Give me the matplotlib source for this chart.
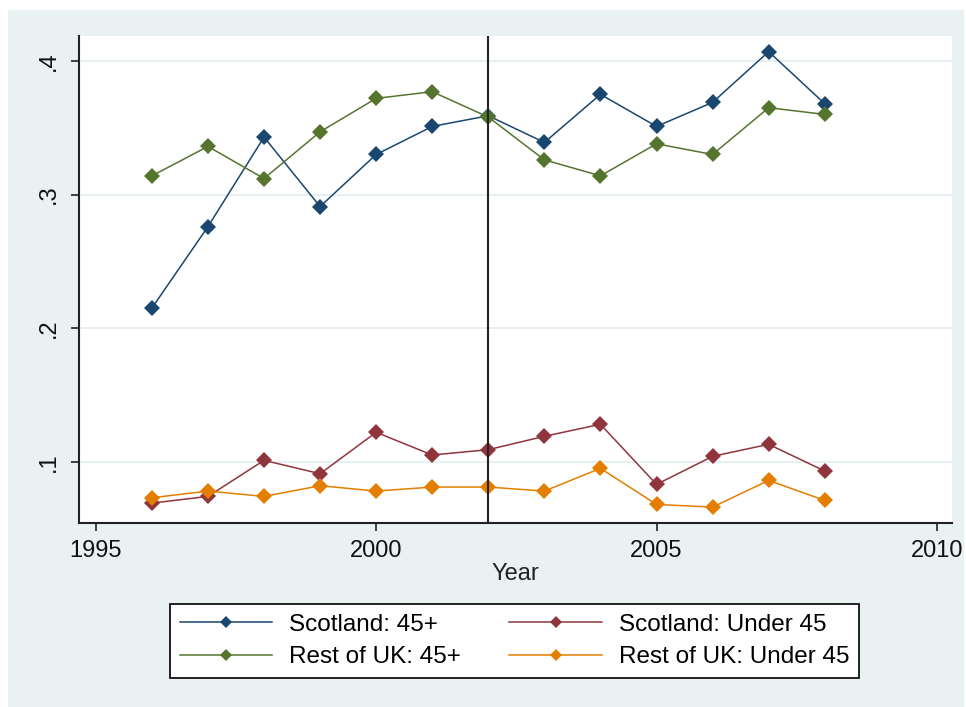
import matplotlib
matplotlib.use("Agg")
import matplotlib.pyplot as plt
from matplotlib.patches import Rectangle
from matplotlib.ticker import FuncFormatter

plt.rcParams['font.family'] = ['Liberation Sans', 'DejaVu Sans']

years = [1996, 1997, 1998, 1999, 2000, 2001, 2002, 2003, 2004, 2005, 2006, 2007, 2008]

scotland_45plus = [0.215, 0.276, 0.343, 0.291, 0.330, 0.351, 0.359, 0.339, 0.375,
                   0.351, 0.369, 0.407, 0.368]
scotland_under45 = [0.069, 0.074, 0.101, 0.091, 0.122, 0.105, 0.109, 0.119, 0.128,
                    0.083, 0.104, 0.113, 0.093]
rest_uk_45plus = [0.314, 0.336, 0.312, 0.347, 0.372, 0.377, 0.358, 0.326, 0.314,
                  0.338, 0.330, 0.365, 0.360]
rest_uk_under45 = [0.073, 0.078, 0.074, 0.082, 0.078, 0.081, 0.081, 0.078, 0.095,
                   0.068, 0.066, 0.086, 0.071]

series_labels = ["Scotland: 45+", "Scotland: Under 45",
                 "Rest of UK: 45+", "Rest of UK: Under 45"]
series_colors = ["#1A476F", "#90353B", "#55752F", "#E37E00"]

x_ticks = [1995, 2000, 2005, 2010]
y_ticks = [0.1, 0.2, 0.3, 0.4]
policy_year = 2002

BG = "#EAF1F3"
GRID = "#E2ECEF"
AXC = "#222222"

fig = plt.figure(figsize=(9.66, 7.07), dpi=100, facecolor="white")
fig.patches.append(Rectangle((8 / 966, 0), 956 / 966, 1 - 10 / 707,
                             transform=fig.transFigure, facecolor=BG,
                             edgecolor="none", zorder=-10))

ax = fig.add_axes([79 / 966, 1 - 523 / 707, (952 - 79) / 966, (523 - 36) / 707])
ax.set_facecolor("white")

handles = []
for vals, lab, col in zip([scotland_45plus, scotland_under45, rest_uk_45plus, rest_uk_under45],
                          series_labels, series_colors):
    h, = ax.plot(years, vals, color=col, lw=1.1, marker="D", markersize=7.8,
                 markeredgewidth=0, label=lab, zorder=3)
    handles.append(h)

ax.axvline(policy_year, color=AXC, lw=1.5, zorder=4)

ax.set_xlim(1994.70, 2010.27)
ax.set_ylim(0.0541, 0.4187)
ax.set_xticks(x_ticks)
ax.set_yticks(y_ticks)
ax.yaxis.set_major_formatter(FuncFormatter(lambda v, p: ("%.1f" % v).lstrip("0")))
ax.grid(axis="y", color=GRID, lw=1.2, zorder=0)
ax.grid(axis="x", visible=False)

for s in ["top", "right"]:
    ax.spines[s].set_visible(False)
for s in ["left", "bottom"]:
    ax.spines[s].set_color(AXC)
    ax.spines[s].set_linewidth(1.5)

ax.tick_params(axis="both", direction="out", length=6, width=1.2, color=AXC,
               labelsize=17, labelcolor="#111111")
ax.tick_params(axis="x", pad=6)
ax.tick_params(axis="y", pad=8)
for lab in ax.get_yticklabels():
    lab.set_rotation(90)
    lab.set_va("center")

ax.set_xlabel("Year", fontsize=17, color="#222222", labelpad=1)

order = [0, 2, 1, 3]
leg = fig.legend([handles[i] for i in order], [series_labels[i] for i in order],
                 ncol=2, loc="center", bbox_to_anchor=(514.5 / 966, 1 - 641 / 707),
                 fontsize=17.5, frameon=True, fancybox=False, framealpha=1,
                 edgecolor="#111111", facecolor="white", handlelength=3.8,
                 handletextpad=0.7, columnspacing=2.0, labelspacing=0.45,
                 borderpad=0.4, markerscale=0.8)
leg.get_frame().set_linewidth(1.3)

fig.savefig("out.png", dpi=100, facecolor=fig.get_facecolor())
